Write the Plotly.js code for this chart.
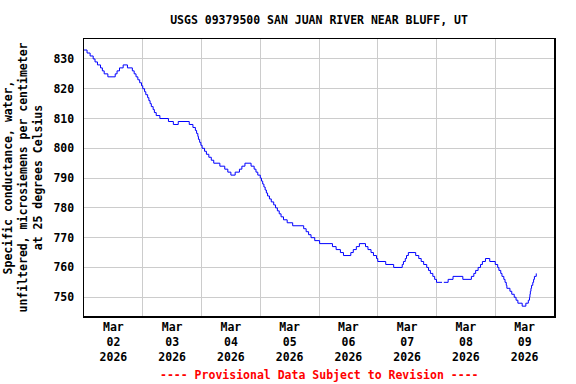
<!DOCTYPE html>
<html>
<head>
<meta charset="utf-8">
<script src="https://cdn.plot.ly/plotly-3.0.1.min.js"></script>
<style>html,body{margin:0;padding:0;background:#fff;}#chart{width:576px;height:384px;}</style>
</head>
<body>
<div id="chart"></div>
<script>
const chartTitle = 'USGS 09379500 SAN JUAN RIVER NEAR BLUFF, UT';
const yAxisTitle = 'Specific conductance, water,<br>unfiltered, microsiemens per centimeter<br>at 25 degrees Celsius';
const footerText = '---- Provisional Data Subject to Revision ----';

const times = [
'2026-03-02 00:00','2026-03-02 01:15','2026-03-02 02:30','2026-03-02 03:45','2026-03-02 04:30',
'2026-03-02 05:30','2026-03-02 06:45','2026-03-02 07:30','2026-03-02 08:15','2026-03-02 09:45',
'2026-03-02 12:45','2026-03-02 13:30','2026-03-02 14:30','2026-03-02 16:00','2026-03-02 17:45',
'2026-03-02 19:45','2026-03-02 20:30','2026-03-02 21:15','2026-03-02 22:00','2026-03-02 22:45',
'2026-03-02 23:30','2026-03-03 00:00','2026-03-03 00:45','2026-03-03 01:15','2026-03-03 02:00',
'2026-03-03 02:30','2026-03-03 03:00','2026-03-03 03:30','2026-03-03 04:15','2026-03-03 04:45',
'2026-03-03 05:30','2026-03-03 07:00','2026-03-03 10:30','2026-03-03 12:30','2026-03-03 14:30',
'2026-03-03 19:00','2026-03-03 20:30','2026-03-03 21:30','2026-03-03 22:00','2026-03-03 22:30',
'2026-03-03 22:45','2026-03-03 23:15','2026-03-03 23:45','2026-03-04 00:15','2026-03-04 01:15',
'2026-03-04 02:00','2026-03-04 03:00','2026-03-04 04:00','2026-03-04 05:00','2026-03-04 07:30',
'2026-03-04 09:30','2026-03-04 10:45','2026-03-04 12:00','2026-03-04 13:45','2026-03-04 15:30',
'2026-03-04 16:30','2026-03-04 17:45','2026-03-04 20:15','2026-03-04 21:30','2026-03-04 22:15',
'2026-03-04 23:00','2026-03-05 00:00','2026-03-05 00:30','2026-03-05 01:00','2026-03-05 01:30',
'2026-03-05 02:00','2026-03-05 02:30','2026-03-05 03:00','2026-03-05 03:45','2026-03-05 04:30',
'2026-03-05 05:30','2026-03-05 06:15','2026-03-05 07:00','2026-03-05 07:45','2026-03-05 08:30',
'2026-03-05 09:30','2026-03-05 11:00','2026-03-05 13:15','2026-03-05 17:45','2026-03-05 18:45',
'2026-03-05 19:45','2026-03-05 20:45','2026-03-05 22:15','2026-03-06 00:15','2026-03-06 05:30',
'2026-03-06 07:00','2026-03-06 08:45','2026-03-06 10:00','2026-03-06 13:00','2026-03-06 14:00',
'2026-03-06 15:15','2026-03-06 16:30','2026-03-06 19:00','2026-03-06 20:00','2026-03-06 21:15',
'2026-03-06 22:15','2026-03-06 23:30','2026-03-07 00:00','2026-03-07 03:15','2026-03-07 06:30',
'2026-03-07 10:00','2026-03-07 10:30','2026-03-07 11:15','2026-03-07 11:45','2026-03-07 12:30',
'2026-03-07 15:30','2026-03-07 16:45','2026-03-07 17:45','2026-03-07 18:45','2026-03-07 20:00',
'2026-03-07 20:45','2026-03-07 21:30','2026-03-07 22:30','2026-03-07 23:15','2026-03-08 00:00',
'2026-03-08 02:15','2026-03-08 02:30','2026-03-08 03:00','2026-03-08 04:45','2026-03-08 06:45',
'2026-03-08 10:45','2026-03-08 14:15','2026-03-08 15:15','2026-03-08 16:00','2026-03-08 17:00',
'2026-03-08 18:00','2026-03-08 18:45','2026-03-08 20:00','2026-03-08 21:45','2026-03-09 00:00',
'2026-03-09 01:00','2026-03-09 01:30','2026-03-09 02:15','2026-03-09 02:45','2026-03-09 03:30',
'2026-03-09 04:00','2026-03-09 04:30','2026-03-09 04:45','2026-03-09 06:00','2026-03-09 06:45',
'2026-03-09 07:45','2026-03-09 08:30','2026-03-09 09:15','2026-03-09 11:00','2026-03-09 12:30',
'2026-03-09 13:30','2026-03-09 14:00','2026-03-09 14:10','2026-03-09 14:20','2026-03-09 14:35',
'2026-03-09 14:50','2026-03-09 15:20','2026-03-09 15:40','2026-03-09 16:00','2026-03-09 16:45'
];

const conductance = [
833,832,831,830,829,
828,827,826,825,824,
825,826,827,828,827,
826,825,824,823,822,
821,820,819,818,817,
816,815,814,813,812,
811,810,809,808,809,
808,807,806,805,804,
803,802,801,800,799,
798,797,796,795,794,
793,792,791,792,793,
794,795,794,793,792,
791,790,789,788,787,
786,785,784,783,782,
781,780,779,778,777,
776,775,774,773,772,
771,770,769,768,767,
766,765,764,765,766,
767,768,767,766,765,
764,763,762,761,760,
761,762,763,764,765,
764,763,762,761,760,
759,758,757,756,755,
755,null,755,756,757,
756,757,758,759,760,
761,762,763,762,761,
760,759,758,757,756,
755,754,753,752,751,
750,749,748,747,748,
749,750,751,752,753,
754,755,756,757,758
];

const xRange = ['2026-03-02 00:00', '2026-03-10 00:00'];
const yRange = [743.7, 836.7];

const fontFam = '"DejaVu Sans Mono", "Liberation Mono", monospace';
const baseFont = {family: fontFam, size: 11.5, color: '#000000', weight: 'bold'};

const trace = {
  x: times,
  y: conductance,
  type: 'scatter',
  mode: 'lines',
  line: {color: '#0000ff', width: 1, shape: 'hv'},
  connectgaps: false,
  hoverinfo: 'skip'
};

const layout = {
  width: 576,
  height: 384,
  margin: {l: 84, r: 22, t: 39, b: 68},
  paper_bgcolor: '#ffffff',
  plot_bgcolor: '#ffffff',
  showlegend: false,
  font: baseFont,
  title: {
    text: chartTitle,
    font: baseFont,
    x: 0.5, xref: 'paper', xanchor: 'center',
    y: 1 - 20/384, yref: 'container', yanchor: 'middle'
  },
  xaxis: {
    type: 'date',
    range: xRange,
    tick0: '2026-03-02 00:00',
    dtick: 86400000,
    tickformat: '%b<br>%d<br>%Y',
    ticklabelmode: 'period',
    showgrid: true,
    gridcolor: '#cccccc',
    gridwidth: 1,
    zeroline: false,
    showline: true,
    linecolor: '#000000',
    linewidth: 1.5,
    mirror: true,
    ticks: '',
    tickfont: baseFont,
    automargin: false
  },
  yaxis: {
    range: yRange,
    tick0: 750,
    dtick: 10,
    showgrid: true,
    gridcolor: '#cccccc',
    gridwidth: 1,
    zeroline: false,
    showline: true,
    linecolor: '#000000',
    linewidth: 1.5,
    mirror: true,
    ticks: '',
    ticklabelstandoff: 6,
    tickfont: baseFont,
    automargin: false,
    title: {text: yAxisTitle, font: baseFont, standoff: 8}
  },
  annotations: [{
    text: footerText,
    xref: 'paper', yref: 'paper',
    x: 0.5, y: -59/277,
    xanchor: 'center', yanchor: 'middle',
    showarrow: false,
    font: {family: fontFam, size: 11.5, color: '#ff0000', weight: 'bold'}
  }]
};

Plotly.newPlot('chart', [trace], layout, {staticPlot: true, displayModeBar: false});
</script>
</body>
</html>
